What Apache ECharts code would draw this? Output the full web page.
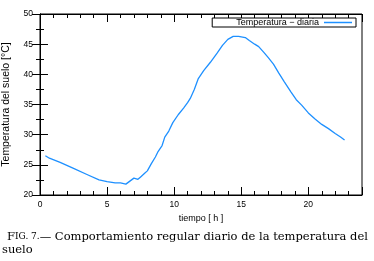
<!DOCTYPE html>
<html><head><meta charset="utf-8">
<script src="https://cdn.jsdelivr.net/npm/echarts@6/dist/echarts.min.js"></script>
<style>html,body{margin:0;padding:0;background:#fff}#c{width:374px;height:261px}</style>
</head><body><div id="c"></div>
<script>
const hours = [0.4,0.7,1.5,2.5,3.5,4.4,5.0,5.6,6.0,6.4,6.7,7.0,7.3,7.5,7.8,8.0,8.3,8.6,8.8,9.1,9.3,9.6,9.9,10.3,10.7,11.0,11.2,11.5,11.8,12.2,12.7,13.2,13.6,14.0,14.4,14.8,15.3,15.6,16.0,16.3,16.7,17.0,17.4,17.8,18.2,18.7,19.1,19.5,20.0,20.5,21.0,21.5,22.0,22.4,22.7];
const temps = [26.5,26.1,25.4,24.4,23.4,22.5,22.2,22.0,22.0,21.8,22.3,22.8,22.6,23.0,23.6,24.0,25.2,26.3,27.2,28.2,29.6,30.6,32.0,33.3,34.4,35.3,36.0,37.5,39.3,40.6,42.0,43.5,44.8,45.8,46.3,46.3,46.1,45.6,45.0,44.6,43.6,42.8,41.7,40.2,38.8,37.1,35.8,34.9,33.6,32.6,31.7,31.0,30.2,29.6,29.1];
const seriesName = 'Temperatura − diaria';
const xName = 'tiempo [ h ]';
const yName = 'Temperatura del suelo [°C]';
const captionLine1 = ['F','IG. 7.','— Comportamiento regular diario de la temperatura del'];
const captionLine2 = 'suelo';

const chart = echarts.init(document.getElementById('c'), null, {renderer:'canvas'});
const fontS = 'Liberation Sans';
const tickCommon = {show:true, inside:true, length:8, lineStyle:{color:'#000', width:1}};
const minorCommon = {show:true, length:4, lineStyle:{color:'#000', width:1}};
chart.setOption({
  backgroundColor:'#fff',
  animation:false,
  grid:{left:40, right:12, top:14, bottom:66, show:true, borderColor:'#000', borderWidth:1,
        containLabel:false, outerBoundsMode:'none'},
  legend:{
    data:[seriesName], right:18, top:18, align:'right',
    orient:'horizontal', icon:'rect',
    itemWidth:28, itemHeight:1.5, itemGap:0,
    borderColor:'#000', borderWidth:1, borderRadius:0,
    padding:[0,4,0,24],
    backgroundColor:'#fff',
    textStyle:{fontFamily:fontS, fontSize:9, color:'#000', lineHeight:8, padding:[0,0,0,0]}
  },
  xAxis:[
    {type:'value', min:0, max:24, interval:5, position:'bottom',
     axisLine:{show:true, lineStyle:{color:'#000'}},
     axisTick:tickCommon, minorTick:Object.assign({splitNumber:5}, minorCommon),
     splitLine:{show:false},
     axisLabel:{fontFamily:fontS, fontSize:8.5, color:'#000', margin:5, showMaxLabel:false},
     name:xName, nameLocation:'middle', nameGap:15,
     nameTextStyle:{fontFamily:fontS, fontSize:9, color:'#000'}},
    {type:'value', min:0, max:24, interval:5, position:'top',
     axisLine:{show:true, lineStyle:{color:'#000'}},
     axisTick:tickCommon, minorTick:Object.assign({splitNumber:5}, minorCommon),
     splitLine:{show:false}, axisLabel:{show:false}}
  ],
  yAxis:[
    {type:'value', min:20, max:50, interval:5, position:'left',
     axisLine:{show:true, lineStyle:{color:'#000'}},
     axisTick:tickCommon, minorTick:Object.assign({splitNumber:2}, minorCommon),
     splitLine:{show:false},
     axisLabel:{fontFamily:fontS, fontSize:8.5, color:'#000', margin:7},
     name:yName, nameLocation:'middle', nameGap:28, nameRotate:90,
     nameTextStyle:{fontFamily:fontS, fontSize:10.5, color:'#000'}},
    {type:'value', min:20, max:50, interval:5, position:'right',
     axisLine:{show:true, lineStyle:{color:'#000'}},
     axisTick:tickCommon, minorTick:Object.assign({splitNumber:2}, minorCommon),
     splitLine:{show:false}, axisLabel:{show:false}}
  ],
  series:[{
    name:seriesName, type:'line', xAxisIndex:0, yAxisIndex:0,
    symbol:'none', smooth:false,
    lineStyle:{color:'#1e90ff', width:1.3}, itemStyle:{color:'#1e90ff'},
    data:hours.map((h,i)=>[h,temps[i]])
  }],
  graphic:[
    {type:'text', left:7, top:231, style:{
      text:'{a|'+captionLine1[0]+'}{b|'+captionLine1[1]+'}{a|'+captionLine1[2]+'}',
      rich:{a:{fontFamily:'DejaVu Serif', fontSize:11.5, fill:'#000'},
            b:{fontFamily:'DejaVu Serif', fontSize:9, fill:'#000'}}
    }},
    {type:'text', left:2, top:244, style:{
      text:captionLine2, fontFamily:'DejaVu Serif', fontSize:11.5, fill:'#000'
    }}
  ]
});
</script></body></html>
